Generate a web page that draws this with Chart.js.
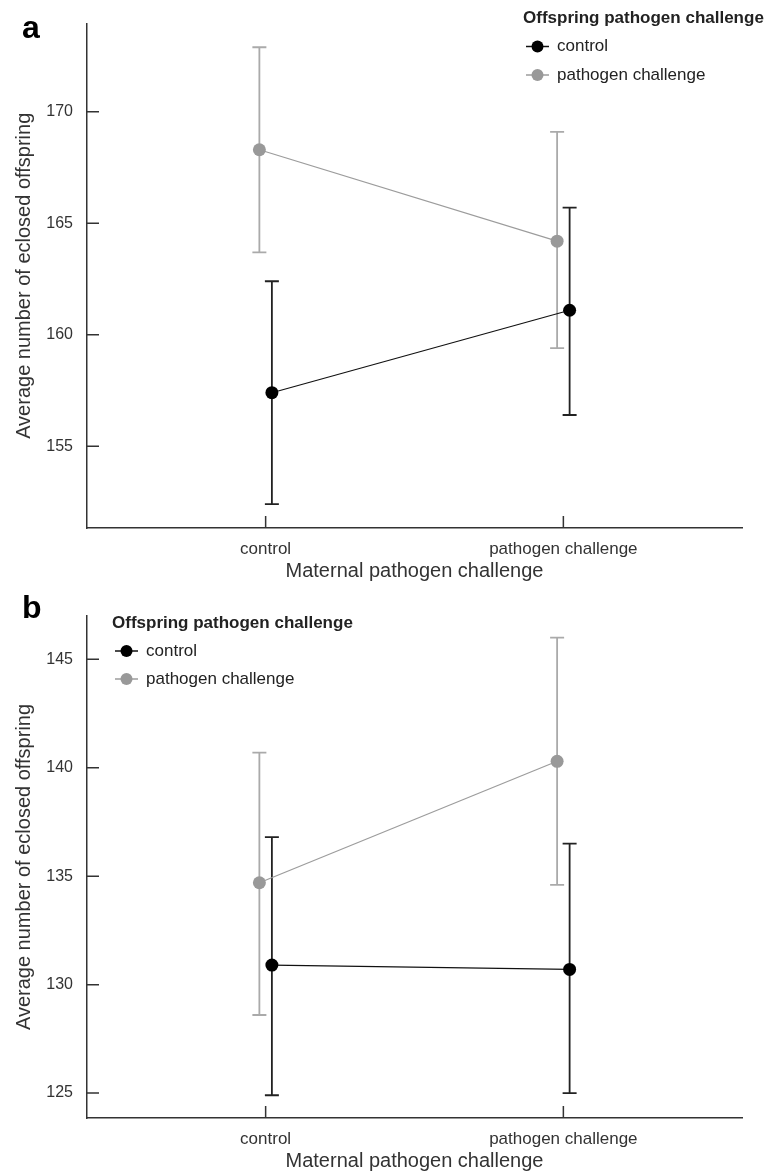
<!DOCTYPE html>
<html>
<head>
<meta charset="utf-8">
<script src="https://cdn.jsdelivr.net/npm/chart.js@4.4.1/dist/chart.umd.min.js"></script>
<style>
  body { margin: 0; width: 773px; height: 1174px; overflow: hidden; background: #fff; position: relative; font-family: 'Liberation Sans', Arial, sans-serif; }
  .panel { position: absolute; left: 0; width: 773px; height: 590px; }
  .letter { position: absolute; left: 22px; font-weight: bold; font-size: 32px; line-height: 1; color: #000; }
</style>
</head>
<body>
<div class="panel" style="top:0"><canvas id="chartA" width="773" height="590"></canvas></div>
<div class="panel" style="top:590px"><canvas id="chartB" width="773" height="590"></canvas></div>
<div class="letter" style="top:11px">a</div>
<div class="letter" style="top:591px">b</div>
<script>
const categories = ['control', 'pathogen challenge'];
const seriesNames = ['control', 'pathogen challenge'];
const legendTitle = 'Offspring pathogen challenge';
const xTitle = 'Maternal pathogen challenge';
const yTitle = 'Average number of eclosed offspring';

// panel a
const controlMeanA = [157.4, 161.1];
const controlLowA = [152.4, 156.4];
const controlHighA = [162.4, 165.7];
const pathogenMeanA = [168.3, 164.2];
const pathogenLowA = [163.7, 159.4];
const pathogenHighA = [172.9, 169.1];
const yTicksA = [155, 160, 165, 170];

// panel b
const controlMeanB = [130.9, 130.7];
const controlLowB = [124.9, 125.0];
const controlHighB = [136.8, 136.5];
const pathogenMeanB = [134.7, 140.3];
const pathogenLowB = [128.6, 134.6];
const pathogenHighB = [140.7, 146.0];
const yTicksB = [125, 130, 135, 140, 145];

const fontFamily = "'Liberation Sans', Arial, sans-serif";
Chart.defaults.font.family = fontFamily;
Chart.defaults.color = '#333';

const dodge = 0.021;

const errorBars = {
    id: 'errorBars',
    beforeDatasetsDraw(chart) {
        const ctx = chart.ctx;
        const xs = chart.scales.x;
        const ys = chart.scales.y;
        chart.data.datasets.forEach(ds => {
            ctx.save();
            ctx.strokeStyle = ds.barColor;
            ctx.lineWidth = 1.8;
            ctx.beginPath();
            ds.data.forEach((p, i) => {
                const px = xs.getPixelForValue(p.x);
                const top = ys.getPixelForValue(ds.high[i]);
                const bot = ys.getPixelForValue(ds.low[i]);
                ctx.moveTo(px, top);
                ctx.lineTo(px, bot);
                ctx.moveTo(px - 7, top);
                ctx.lineTo(px + 7, top);
                ctx.moveTo(px - 7, bot);
                ctx.lineTo(px + 7, bot);
            });
            ctx.stroke();
            ctx.restore();
        });
    }
};

// tick marks point into the plot
const innerTicks = {
    id: 'innerTicks',
    afterDraw(chart) {
        const ctx = chart.ctx;
        const area = chart.chartArea;
        ctx.save();
        ctx.strokeStyle = '#333';
        ctx.lineWidth = 1.5;
        ctx.beginPath();
        chart.scales.y.ticks.forEach((t, i) => {
            const py = chart.scales.y.getPixelForTick(i);
            ctx.moveTo(area.left, py);
            ctx.lineTo(area.left + 12, py);
        });
        chart.scales.x.ticks.forEach((t, i) => {
            const px = chart.scales.x.getPixelForTick(i);
            ctx.moveTo(px, area.bottom);
            ctx.lineTo(px, area.bottom - 12);
        });
        ctx.stroke();
        ctx.restore();
    }
};

const sideLegend = {
    id: 'sideLegend',
    afterDraw(chart, args, opts) {
        const ctx = chart.ctx;
        ctx.save();
        ctx.textBaseline = 'middle';
        ctx.textAlign = 'left';
        ctx.fillStyle = '#222';
        ctx.font = 'bold 17px ' + fontFamily;
        ctx.fillText(legendTitle, opts.x, opts.y);
        ctx.font = '17px ' + fontFamily;
        chart.data.datasets.forEach((ds, i) => {
            const y = opts.y + opts.gap * (i + 1);
            const x0 = opts.x + 3;
            ctx.strokeStyle = ds.borderColor;
            ctx.lineWidth = 1.5;
            ctx.beginPath();
            ctx.moveTo(x0, y);
            ctx.lineTo(x0 + 23, y);
            ctx.stroke();
            ctx.fillStyle = ds.pointBackgroundColor;
            ctx.beginPath();
            ctx.arc(x0 + 11.5, y, 6, 0, Math.PI * 2);
            ctx.fill();
            ctx.fillStyle = '#222';
            ctx.fillText(ds.label, opts.x + 34, y);
        });
        ctx.restore();
    }
};

function makeChart(canvas, cMean, cLow, cHigh, pMean, pLow, pHigh, yTicks, yMin, yMax, top, legendPos) {
    return new Chart(canvas, {
        type: 'scatter',
        data: {
            datasets: [
                {
                    label: seriesNames[0],
                    data: categories.map((c, i) => ({ x: i + 1 + dodge, y: cMean[i] })),
                    low: cLow,
                    high: cHigh,
                    showLine: true,
                    borderColor: '#111',
                    borderWidth: 1.2,
                    pointBackgroundColor: '#000',
                    pointBorderWidth: 0,
                    pointRadius: 6.5,
                    barColor: '#222'
                },
                {
                    label: seriesNames[1],
                    data: categories.map((c, i) => ({ x: i + 1 - dodge, y: pMean[i] })),
                    low: pLow,
                    high: pHigh,
                    showLine: true,
                    borderColor: '#9c9c9c',
                    borderWidth: 1.2,
                    pointBackgroundColor: '#999',
                    pointBorderWidth: 0,
                    pointRadius: 6.5,
                    barColor: '#aaa'
                }
            ]
        },
        options: {
            responsive: false,
            animation: false,
            layout: { padding: { top: top, right: 31, left: 0, bottom: 0 } },
            scales: {
                x: {
                    type: 'linear',
                    min: 0.4,
                    max: 2.6,
                    afterBuildTicks: s => { s.ticks = categories.map((c, i) => ({ value: i + 1 })); },
                    afterFit: s => { s.height = 62; },
                    grid: { display: false, drawTicks: false },
                    border: { display: true, color: '#333', width: 1.5 },
                    ticks: {
                        padding: 11,
                        font: { size: 17 },
                        color: '#333',
                        autoSkip: false,
                        maxRotation: 0,
                        callback: v => categories[v - 1]
                    },
                    title: { display: true, text: xTitle, font: { size: 20 }, color: '#333', padding: { top: 0, bottom: 7 } }
                },
                y: {
                    min: yMin,
                    max: yMax,
                    afterBuildTicks: s => { s.ticks = yTicks.map(v => ({ value: v })); },
                    afterFit: s => { s.width = 87; },
                    grid: { display: false, drawTicks: false },
                    border: { display: true, color: '#333', width: 1.5 },
                    ticks: { padding: 14, font: { size: 16 }, color: '#333' },
                    title: { display: true, text: yTitle, font: { size: 20 }, color: '#333', padding: { top: 12, bottom: 0 } }
                }
            },
            plugins: {
                legend: { display: false },
                tooltip: { enabled: false },
                sideLegend: legendPos
            }
        },
        plugins: [errorBars, innerTicks, sideLegend]
    });
}

makeChart(document.getElementById('chartA'), controlMeanA, controlLowA, controlHighA,
    pathogenMeanA, pathogenLowA, pathogenHighA, yTicksA, 151.33, 173.96, 20,
    { x: 523, y: 18, gap: 28.5 });

makeChart(document.getElementById('chartB'), controlMeanB, controlLowB, controlHighB,
    pathogenMeanB, pathogenLowB, pathogenHighB, yTicksB, 123.85, 147.0, 26,
    { x: 112, y: 33, gap: 28 });
</script>
</body>
</html>
